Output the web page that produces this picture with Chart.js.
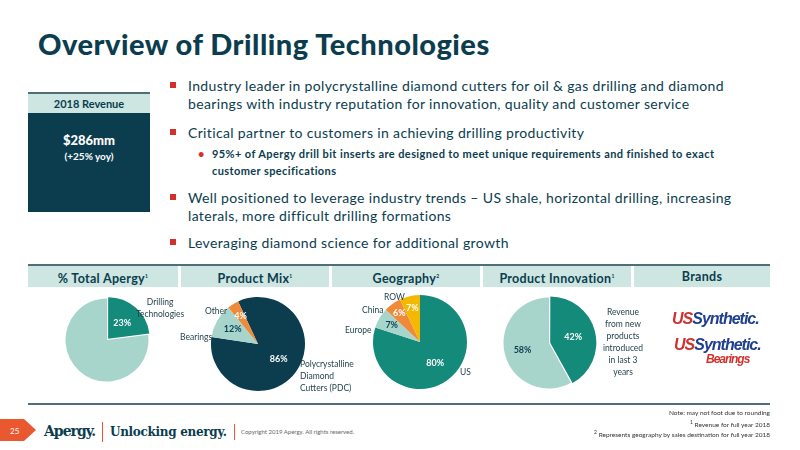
<!DOCTYPE html>
<html><head><meta charset="utf-8">
<script src="https://cdn.jsdelivr.net/npm/chart.js@4"></script>
<style>
body{margin:0;width:800px;height:450px;background:#fff;font-family:Lato,"Noto Sans",sans-serif;position:relative;overflow:hidden;color:#0B3D4F}
.a{position:absolute}
.title{left:38px;top:26px;font-size:29px;font-weight:900;letter-spacing:0.5px}
.bul{left:170px;font-size:14px;line-height:18px;width:585px;letter-spacing:0.35px}
.bul:before{content:"";position:absolute;left:0;top:5px;width:6px;height:6px;background:#D0312D}
.bul span{display:block;margin-left:18px}
.sub{left:212px;font-size:11px;line-height:17px;width:535px;font-weight:700;letter-spacing:0.4px}
.sub:before{content:"•";position:absolute;left:-14px;color:#D0312D}
.hd{top:266px;height:21px;background:#CDE6E1;font-size:12.5px;font-weight:700;text-align:center;line-height:21px;letter-spacing:0.3px}
.lbl{font-size:8.5px;line-height:12px;color:#1d3d47}
canvas{position:absolute}
.note{right:30px;font-size:6.5px;color:#333;text-align:right}
sup{font-size:5px}
</style></head><body>
<div class="a title">Overview of Drilling Technologies</div>
<div class="a" style="left:28px;top:92px;width:122px;height:2px;background:#4E6E78"></div>
<div class="a" style="left:28px;top:94px;width:122px;height:19px;background:#CDE6E1;text-align:center;font-size:11px;font-weight:700;line-height:19px">2018 Revenue</div>
<div class="a" style="left:28px;top:113px;width:122px;height:99px;background:#0B3D4F;color:#fff;text-align:center">
<div style="margin-top:19px;font-size:13px;font-weight:900">$286mm</div><div style="font-size:10px;font-weight:700;margin-top:2px">(+25% yoy)</div></div>
<div class="a bul" style="top:77px"><span>Industry leader in polycrystalline diamond cutters for oil &amp; gas drilling and diamond bearings with industry reputation for innovation, quality and customer service</span></div>
<div class="a bul" style="top:124px"><span>Critical partner to customers in achieving drilling productivity</span></div>
<div class="a sub" style="top:145px">95%+ of Apergy drill bit inserts are designed to meet unique requirements and finished to exact customer specifications</div>
<div class="a bul" style="top:189px"><span>Well positioned to leverage industry trends – US shale, horizontal drilling, increasing laterals, more difficult drilling formations</span></div>
<div class="a bul" style="top:234px"><span>Leveraging diamond science for additional growth</span></div>

<div class="a" style="left:28px;top:264px;width:742px;height:2px;background:#4E6E78"></div>
<div class="a hd" style="left:28px;width:150px">% Total Apergy<sup>1</sup></div>
<div class="a hd" style="left:181px;width:148px">Product Mix<sup>1</sup></div>
<div class="a hd" style="left:332px;width:148px">Geography<sup>2</sup></div>
<div class="a hd" style="left:483px;width:148px">Product Innovation<sup>1</sup></div>
<div class="a hd" style="left:634px;width:136px">Brands</div>
<div class="a" style="left:28px;top:403px;width:742px;height:2px;background:#4E6E78"></div>

<canvas id="c1" class="a" style="left:57px;top:290px" width="100" height="100"></canvas>
<canvas id="c2" class="a" style="left:206px;top:292px" width="104" height="104"></canvas>
<canvas id="c3" class="a" style="left:368px;top:290px" width="104" height="104"></canvas>
<canvas id="c4" class="a" style="left:496px;top:290px" width="106" height="106"></canvas>

<div class="a lbl" style="left:136px;top:296px;text-align:center">Drilling<br>Technologies</div>
<div class="a lbl" style="left:205px;top:305px">Other</div>
<div class="a lbl" style="left:180px;top:331px">Bearings</div>
<div class="a lbl" style="left:300px;top:358px">Polycrystalline<br>Diamond<br>Cutters (PDC)</div>
<div class="a lbl" style="left:384px;top:291px">ROW</div>
<div class="a lbl" style="left:362px;top:304px">China</div>
<div class="a lbl" style="left:345px;top:324px">Europe</div>
<div class="a lbl" style="left:460px;top:366px">US</div>
<div class="a lbl" style="left:600px;top:306px;text-align:center;width:46px">Revenue from new products introduced in last 3 years</div>

<div class="a" style="left:672px;top:310px;font:900 italic 16px 'Liberation Sans',sans-serif;letter-spacing:-1px"><span style="color:#D0312D">US</span><span style="color:#1F3F8F">Synthetic.</span></div>
<div class="a" style="left:674px;top:338px;font:900 italic 16px 'Liberation Sans',sans-serif;letter-spacing:-1px;line-height:14px"><span style="color:#D0312D">US</span><span style="color:#1F3F8F">Synthetic.</span><div style="color:#D0312D;font-size:12px;margin-left:32px">Bearings</div></div>

<div class="a note" style="top:409px">Note: may not foot due to rounding</div>
<div class="a note" style="top:419px"><sup>1</sup> Revenue for full year 2018</div>
<div class="a note" style="top:429px"><sup>2</sup> Represents geography by sales destination for full year 2018</div>

<svg class="a" style="left:0;top:419px" width="38" height="22"><polygon points="0,0 24,0 36,11 24,22 0,22" fill="#E9582E"/><text x="10" y="15" font-size="8" fill="#fff" font-family="Lato">25</text></svg>
<div class="a" style="left:44px;top:423px;font:900 14px 'DejaVu Serif',serif;color:#0B3D4F;letter-spacing:-1px">Apergy.</div>
<div class="a" style="left:102px;top:422px;width:1px;height:20px;background:#E9582E"></div>
<div class="a" style="left:110px;top:425px;font:700 12px 'DejaVu Serif',serif;color:#0B3D4F;letter-spacing:-0.3px">Unlocking energy.</div>
<div class="a" style="left:234px;top:424px;width:1px;height:16px;background:#E9582E"></div>
<div class="a" style="left:241px;top:428px;font-size:6px;color:#666">Copyright 2019 Apergy. All rights reserved.</div>

<script>
const teal='#138A7A', light='#A8D5CB', dark='#0B3D4F', orange='#F08A3B', yellow='#F5B800';
const totalLabels=['Drilling Technologies','Other'];
const totalValues=[23,77];
const mixLabels=['PDC','Bearings','Other'];
const mixValues=[86,12,4];
const geoLabels=['US','Europe','China','ROW'];
const geoValues=[80,7,6,7];
const innovLabels=['New products','Other'];
const innovValues=[42,58];

const pctPlugin={id:'pct',afterDatasetsDraw(chart,args,opts){
  const ctx=chart.ctx, meta=chart.getDatasetMeta(0), ds=chart.data.datasets[0];
  meta.data.forEach((arc,i)=>{
    const t=(opts.show||[])[i]; if(!t)return;
    const a=(arc.startAngle+arc.endAngle)/2, r=arc.outerRadius*(opts.r?opts.r[i]:0.6);
    const x=arc.x+Math.cos(a)*r, y=arc.y+Math.sin(a)*r;
    ctx.save();ctx.font='bold 9px Lato';ctx.fillStyle=opts.colors[i];ctx.textAlign='center';ctx.textBaseline='middle';
    ctx.fillText(ds.data[i]+'%',x,y);ctx.restore();
  });}};
Chart.register(pctPlugin);
function pie(id,labels,data,colors,offsets,rot,pct){
  new Chart(document.getElementById(id),{type:'pie',
    data:{labels,datasets:[{data,backgroundColor:colors,borderWidth:0,offset:offsets}]},
    options:{responsive:false,animation:false,rotation:rot,layout:{padding:5},
      plugins:{legend:{display:false},tooltip:{enabled:false},pct}}});
}
pie('c1',totalLabels,totalValues,[teal,light],[7,0],0,{show:[1,0],colors:['#fff'],r:[0.55]});
pie('c2',mixLabels,mixValues,[dark,light,orange],[0,0,0],-25,{show:[1,1,1],colors:['#fff',dark,'#fff'],r:[0.55,0.62,0.7]});
pie('c3',geoLabels,geoValues,[teal,light,orange,yellow],[0,0,0,0],0,{show:[1,1,1,1],colors:['#fff',dark,'#fff','#fff'],r:[0.55,0.7,0.75,0.75]});
pie('c4',innovLabels,innovValues,[teal,light],[5,0],0,{show:[1,1],colors:['#fff',dark],r:[0.55,0.6]});
</script>
</body></html>
